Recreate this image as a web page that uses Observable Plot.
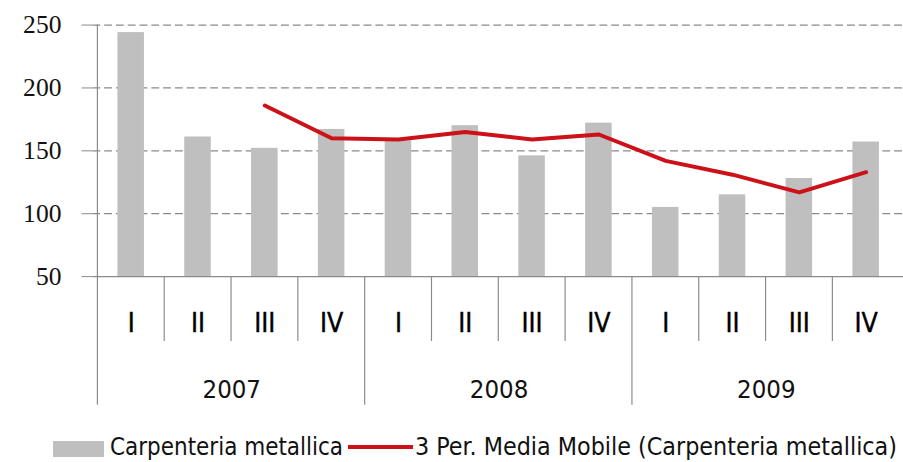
<!DOCTYPE html>
<html>
<head>
<meta charset="utf-8">
<script src="https://cdn.jsdelivr.net/npm/d3@7"></script>
<script src="https://cdn.jsdelivr.net/npm/@observablehq/plot@0.6"></script>
<style>
  html, body { margin: 0; padding: 0; background: #fff; overflow: hidden; }
  #wrap { position: relative; width: 903px; height: 462px; overflow: hidden; }
  #chart { position: absolute; left: 0; top: 0; }
  #legend { position: absolute; left: 0; top: 420px; }
  svg { overflow: visible; }
</style>
</head>
<body>
<div id="wrap"><div id="chart"></div><svg id="legend" width="903" height="42"></svg></div>
<script>
// ---- data ----
const years = ["2007", "2008", "2009"];
const quarters = ["I", "II", "III", "IV"];
const barValues = [244, 161, 152, 167, 158, 170, 146, 172, 105, 115, 128, 157];
const movingAverage = [null, null, 186, 160, 159, 165, 159, 163, 142, 131, 117, 133];
const yTicks = [50, 100, 150, 200, 250];
const gridTicks = [100, 150, 200, 250];
const seriesNames = ["Carpenteria metallica", "3 Per. Media Mobile (Carpenteria metallica)"];

// table for the library
const rows = barValues.map((v, i) => ({
  key: years[Math.floor(i / quarters.length)] + "-" + quarters[i % quarters.length],
  year: years[Math.floor(i / quarters.length)],
  q: quarters[i % quarters.length],
  value: v,
  avg: movingAverage[i]
}));
const keys = rows.map(d => d.key);

const marginLeft = 94, step = 68.73;
const width = Math.round(marginLeft + keys.length * step);
const barColor = "#bfbfbf", lineColor = "#cc1118", axisColor = "#8a8a8a";
const sans = "'Liberation Sans Narrow', 'Arial Narrow', 'DejaVu Sans Condensed', sans-serif";

const chart = Plot.plot({
  width, height: 420,
  marginLeft, marginRight: 0, marginTop: 25, marginBottom: 139,
  x: { domain: keys, padding: 0, axis: null },
  y: { domain: [50, 250], axis: null },
  style: { background: "transparent" },
  marks: [
    Plot.ruleY(gridTicks, { stroke: axisColor, strokeWidth: 1.2, strokeDasharray: "8,4" }),
    Plot.barY(rows, { x: "key", y1: 50, y2: "value", fill: barColor, insetLeft: 20.5, insetRight: 20.5 }),
    Plot.ruleY([50], { stroke: axisColor, strokeWidth: 1.2 }),
    Plot.axisY({ ticks: yTicks, tickSize: 11, tickPadding: 21, stroke: axisColor, fill: "#111",
                 fontSize: 26, fontFamily: "'Liberation Serif', 'DejaVu Serif', serif", label: null }),
    // y axis line / first year divider
    Plot.tickX([keys[0]], { x: d => d, dx: -step / 2, stroke: axisColor, strokeWidth: 1.2, insetBottom: -131 }),
    // other year dividers
    Plot.tickX(rows.filter(d => d.q === "I" && d.key !== keys[0]), { x: "key", dx: -step / 2, stroke: axisColor, strokeWidth: 1.2, insetTop: 256, insetBottom: -131 }),
    // quarter dividers
    Plot.tickX(rows.filter(d => d.q !== "I"), { x: "key", dx: -step / 2, stroke: axisColor, strokeWidth: 1.2, insetTop: 256, insetBottom: -66 }),
    Plot.lineY(rows, { x: "key", y: "avg", stroke: lineColor, strokeWidth: 4, curve: "linear" }),
    Plot.text(rows, { x: "key", text: "q", frameAnchor: "bottom", dy: 48, lineAnchor: "middle",
                      fontSize: 27, fontFamily: sans, fill: "#000", stroke: "#000", strokeWidth: 0.4 }),
    Plot.text(rows.filter(d => d.q === "II"), { x: "key", text: "year", dx: step / 2, frameAnchor: "bottom", dy: 115,
                      lineAnchor: "middle", fontSize: 26, fontFamily: sans, fill: "#111" })
  ]
});
document.getElementById("chart").appendChild(chart);

// ---- legend ----
const lg = d3.select("#legend");
lg.append("rect").attr("x", 53).attr("y", 21).attr("width", 51).attr("height", 16).attr("fill", barColor);
lg.append("text").attr("x", 110).attr("y", 35).attr("font-family", sans).attr("font-size", 25).attr("fill", "#111")
  .attr("textLength", 233).attr("lengthAdjust", "spacingAndGlyphs").text(seriesNames[0]);
lg.append("line").attr("x1", 348).attr("x2", 413).attr("y1", 27).attr("y2", 27)
  .attr("stroke", lineColor).attr("stroke-width", 4);
lg.append("text").attr("x", 415).attr("y", 35).attr("font-family", sans).attr("font-size", 25).attr("fill", "#111")
  .attr("textLength", 482).attr("lengthAdjust", "spacingAndGlyphs").text(seriesNames[1]);
</script>
</body>
</html>
